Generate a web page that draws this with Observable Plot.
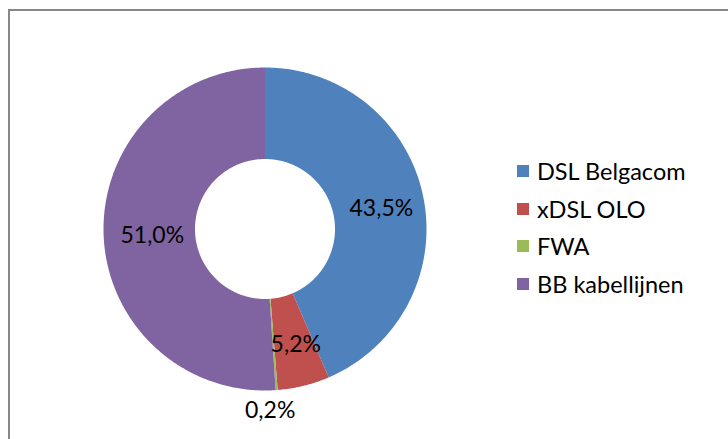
<!DOCTYPE html>
<html>
<head>
<meta charset="utf-8">
<script src="https://cdn.jsdelivr.net/npm/d3@7"></script>
<script src="https://cdn.jsdelivr.net/npm/@observablehq/plot@0.6"></script>
<style>
  html, body { margin: 0; padding: 0; background: #fff; }
  #wrap { position: relative; width: 728px; height: 439px; overflow: hidden; font-family: Lato, "Open Sans", sans-serif; }
  #frame { position: absolute; left: 8px; top: 9px; width: 760px; height: 480px; border: 2px solid #878787; box-sizing: border-box; pointer-events: none; }
  #legend { position: absolute; left: 517px; top: 152px; }
  .row { display: flex; align-items: center; height: 37.7px; font-size: 23.5px; color: #000; }
  .sw { width: 12px; height: 12px; margin-right: 8px; }
</style>
</head>
<body>
<div id="wrap"><div id="chart"></div><div id="legend"></div><div id="frame"></div></div>
<script>
const categories = ["DSL Belgacom", "xDSL OLO", "FWA", "BB kabellijnen"];
const shares = [43.5, 5.2, 0.2, 51.0];
const labels = ["43,5%", "5,2%", "0,2%", "51,0%"];
const colors = ["#4F81BD", "#C0504D", "#9BBB59", "#8064A2"];

const innerR = 70 / 161.5;
const total = d3.sum(shares);
const arcs = d3.pie().sort(null).value(d => d)(shares);

const poly = [];
const labelData = [];
arcs.forEach((a, i) => {
  const n = Math.max(4, Math.ceil((a.endAngle - a.startAngle) / 0.01));
  for (let k = 0; k <= n; k++) {
    const t = a.startAngle + (a.endAngle - a.startAngle) * k / n;
    poly.push({name: categories[i], x: Math.sin(t), y: Math.cos(t)});
  }
  for (let k = n; k >= 0; k--) {
    const t = a.startAngle + (a.endAngle - a.startAngle) * k / n;
    poly.push({name: categories[i], x: innerR * Math.sin(t), y: innerR * Math.cos(t)});
  }
  const mid = (a.startAngle + a.endAngle) / 2;
  const small = shares[i] / total < 0.01;
  const r = small ? 1.13 : (1 + innerR) / 2;
  labelData.push({label: labels[i], x: r * Math.sin(mid), y: r * Math.cos(mid), small});
});

const chart = Plot.plot({
  width: 728,
  height: 439,
  marginLeft: 103,
  marginRight: 302,
  marginTop: 67,
  marginBottom: 49,
  x: {domain: [-1, 1], axis: null},
  y: {domain: [-1, 1], axis: null},
  color: {domain: categories, range: colors},
  style: {fontFamily: "Lato, 'Open Sans', sans-serif", background: "#fff", overflow: "visible"},
  marks: [
    Plot.line(poly, {x: "x", y: "y", z: "name", fill: "name", stroke: null, curve: "linear"}),
    Plot.text(labelData.filter(d => !d.small), {x: "x", y: "y", text: "label", fontSize: 23, fill: "#000", dx: 3, dy: 3}),
    Plot.text(labelData.filter(d => d.small), {x: "x", y: "y", text: "label", fontSize: 23, fill: "#000", dx: -8})
  ]
});
document.getElementById("chart").appendChild(chart);

const color = chart.scale("color");
const legend = document.getElementById("legend");
categories.forEach(c => {
  const row = document.createElement("div");
  row.className = "row";
  const sw = document.createElement("div");
  sw.className = "sw";
  sw.style.background = color.apply(c);
  const tx = document.createElement("span");
  tx.textContent = c;
  row.appendChild(sw);
  row.appendChild(tx);
  legend.appendChild(row);
});
</script>
</body>
</html>
